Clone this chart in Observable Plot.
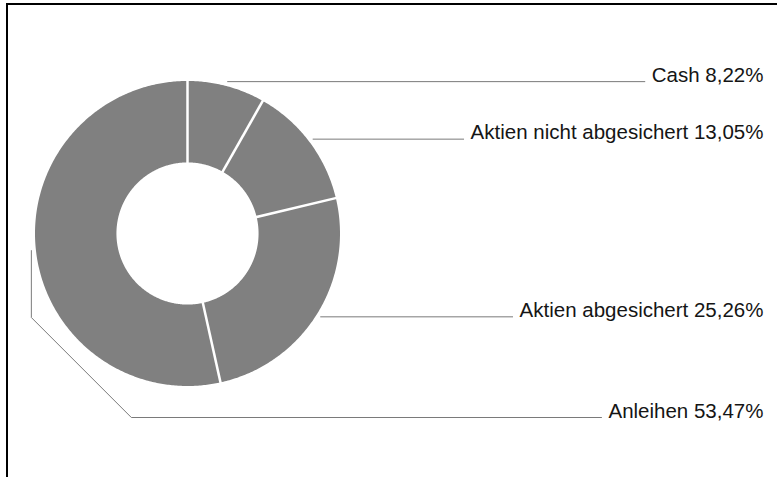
<!DOCTYPE html>
<html><head><meta charset="utf-8">
<script src="https://cdn.jsdelivr.net/npm/d3@7"></script>
<script src="https://cdn.jsdelivr.net/npm/@observablehq/plot@0.6"></script>
<style>
html,body{margin:0;padding:0;background:#fff;overflow:hidden}
#wrap{position:relative;width:777px;height:477px;overflow:hidden}
#frame{position:absolute;left:6px;top:3px;width:900px;height:600px;border-left:2px solid #000;border-top:2px solid #000;pointer-events:none}
</style></head><body><div id="wrap"><div id="chart"></div><div id="frame"></div></div>
<script>
// Data
const categories = ["Cash", "Aktien nicht abgesichert", "Aktien abgesichert", "Anleihen"];
const shares = [8.22, 13.05, 25.26, 53.47];
const labelTexts = ["Cash 8,22%", "Aktien nicht abgesichert 13,05%", "Aktien abgesichert 25,26%", "Anleihen 53,47%"];

// Layout
const W = 777, H = 477, cx = 187, cy = 233, R = 152.5;
const innerR = 0.466, anchorR = 1.03;
const fontSize = 20.5, fontFamily = "'Liberation Sans', Arial, Helvetica, sans-serif";
const textRight = (763 - cx) / R;
const gap = 7 / R;
const bottomLabelY = -(417 - cy) / R;
const elbow = 100 / R;

const pie = d3.pie().sort(null).value(d => d)(shares);

// slice polygons
const polys = [];
pie.forEach((p, i) => {
  const n = Math.max(8, Math.ceil((p.endAngle - p.startAngle) / 0.01));
  for (let k = 0; k <= n; k++) {
    const a = p.startAngle + (p.endAngle - p.startAngle) * k / n;
    polys.push({cat: categories[i], x: Math.sin(a), y: Math.cos(a)});
  }
  for (let k = n; k >= 0; k--) {
    const a = p.startAngle + (p.endAngle - p.startAngle) * k / n;
    polys.push({cat: categories[i], x: innerR * Math.sin(a), y: innerR * Math.cos(a)});
  }
});

// separators
const seps = pie.map(p => ({
  x1: (innerR - 0.02) * Math.sin(p.startAngle), y1: (innerR - 0.02) * Math.cos(p.startAngle),
  x2: 1.02 * Math.sin(p.startAngle), y2: 1.02 * Math.cos(p.startAngle)
}));

// text widths
const ctx = document.createElement("canvas").getContext("2d");
ctx.font = `${fontSize}px ${fontFamily}`;

const labels = [];
const leaders = [];
pie.forEach((p, i) => {
  const m = (p.startAngle + p.endAngle) / 2;
  const ax = anchorR * Math.sin(m), ay = anchorR * Math.cos(m);
  const w = ctx.measureText(labelTexts[i]).width / R;
  const lineEnd = textRight - w - gap;
  let ly = ay;
  if (ax < 0) {
    ly = bottomLabelY;
    leaders.push({cat: categories[i], x: ax, y: ay});
    leaders.push({cat: categories[i], x: ax, y: ly + elbow});
    leaders.push({cat: categories[i], x: ax + elbow, y: ly});
    leaders.push({cat: categories[i], x: lineEnd, y: ly});
  } else {
    leaders.push({cat: categories[i], x: ax, y: ay});
    leaders.push({cat: categories[i], x: lineEnd, y: ay});
  }
  labels.push({text: labelTexts[i], x: textRight, y: ly});
});

const chart = Plot.plot({
  width: W, height: H, margin: 0,
  x: {domain: [-cx / R, (W - cx) / R], range: [0, W], axis: null},
  y: {domain: [-(H - cy) / R, cy / R], range: [H, 0], axis: null},
  style: {background: "transparent", overflow: "visible"},
  marks: [
    Plot.line(polys, {x: "x", y: "y", z: "cat", fill: "#808080", stroke: "none", curve: "linear"}),
    Plot.link(seps, {x1: "x1", y1: "y1", x2: "x2", y2: "y2", stroke: "white", strokeWidth: 2.5}),
    Plot.line(leaders, {x: "x", y: "y", z: "cat", stroke: "#7a7a7a", strokeWidth: 1}),
    Plot.text(labels, {x: "x", y: "y", text: "text", textAnchor: "end", lineAnchor: "bottom",
      fontSize, fontFamily, fill: "#151515"})
  ]
});
document.getElementById("chart").appendChild(chart);
</script>
</body></html>
